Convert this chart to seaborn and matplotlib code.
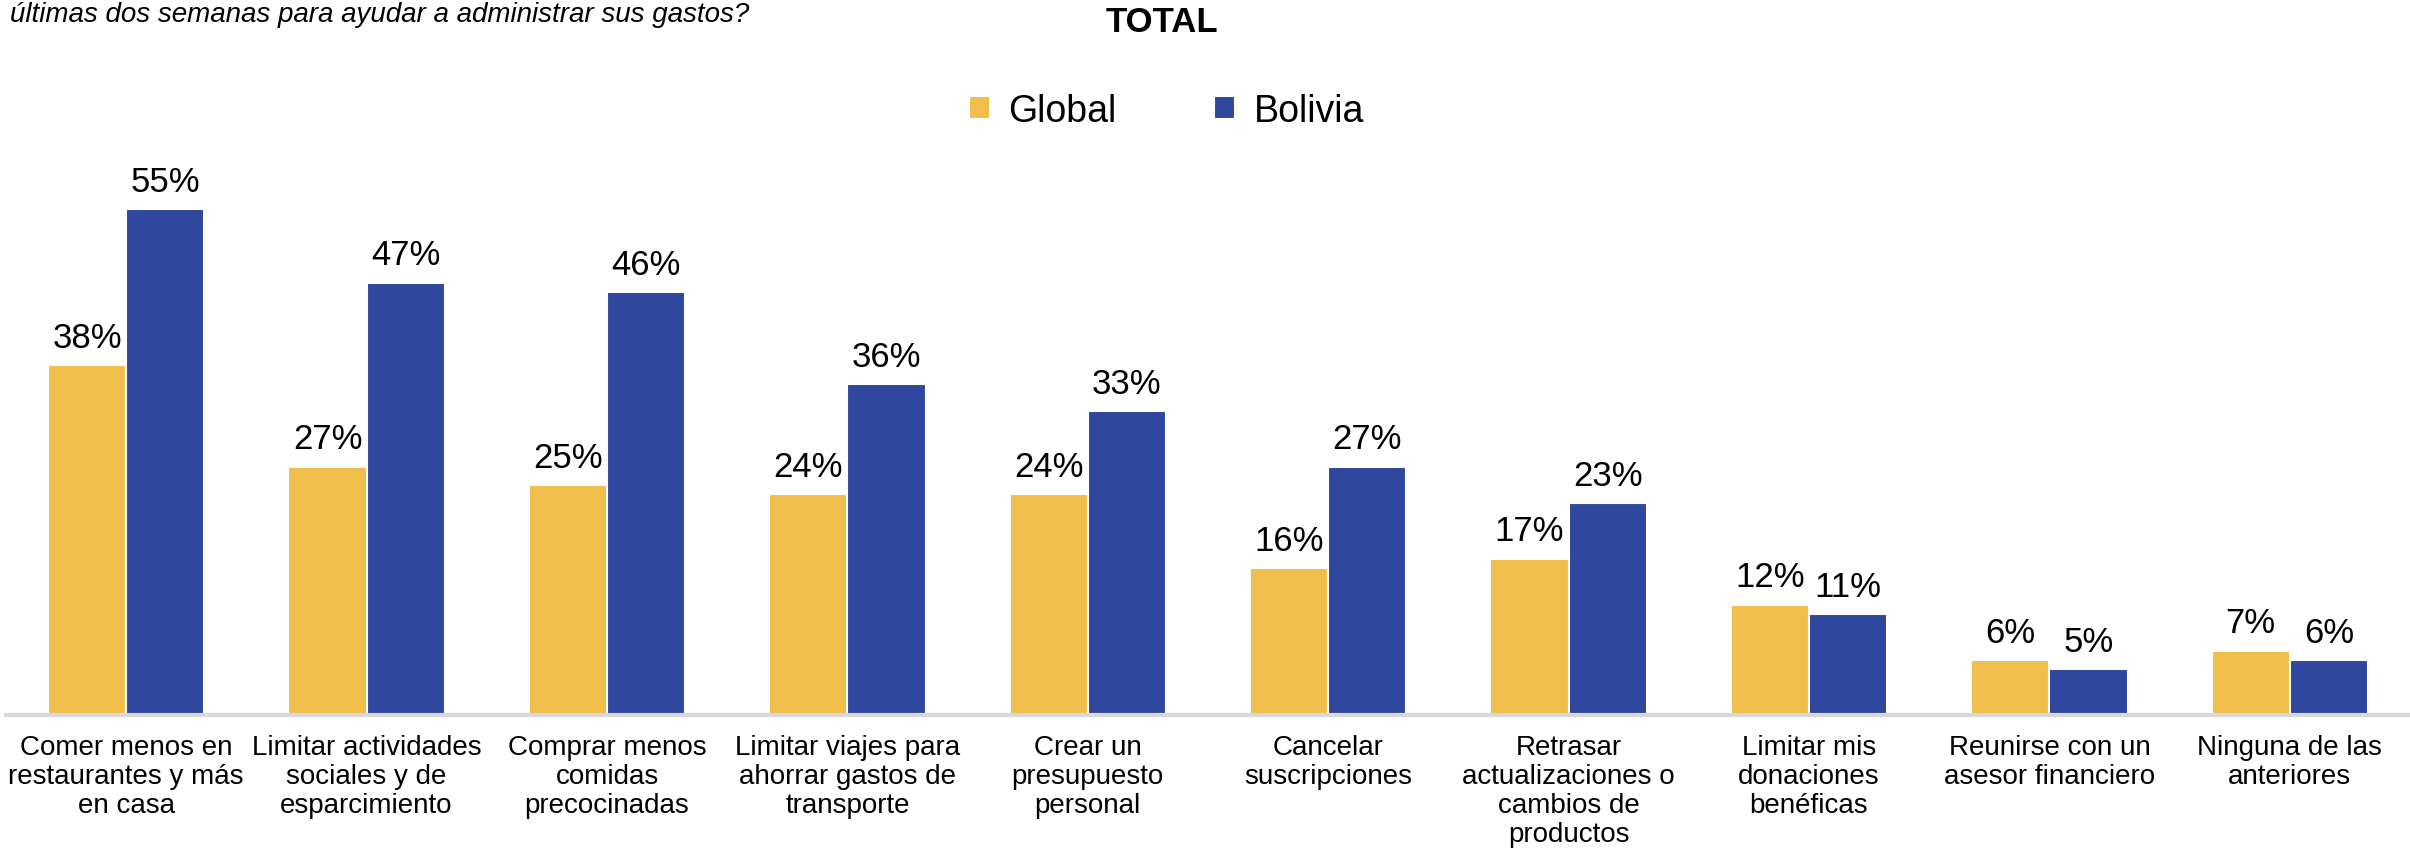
import matplotlib
matplotlib.use("Agg")
import matplotlib.pyplot as plt
from matplotlib import font_manager
import seaborn as sns
import pandas as pd

categories = [
    "Comer menos en\nrestaurantes y más\nen casa",
    "Limitar actividades\nsociales y de\nesparcimiento",
    "Comprar menos\ncomidas\nprecocinadas",
    "Limitar viajes para\nahorrar gastos de\ntransporte",
    "Crear un\npresupuesto\npersonal",
    "Cancelar\nsuscripciones",
    "Retrasar\nactualizaciones o\ncambios de\nproductos",
    "Limitar mis\ndonaciones\nbenéficas",
    "Reunirse con un\nasesor financiero",
    "Ninguna de las\nanteriores",
]
global_vals = [38, 27, 25, 24, 24, 16, 17, 12, 6, 7]
bolivia_vals = [55, 47, 46, 36, 33, 27, 23, 11, 5, 6]
series = ["Global", "Bolivia"]
colors = {"Global": "#F0BE4A", "Bolivia": "#2F479C"}

df = pd.DataFrame({
    "categoria": categories * 2,
    "serie": ["Global"] * len(categories) + ["Bolivia"] * len(categories),
    "valor": global_vals + bolivia_vals,
})

sns.set_theme(style="white")
names = {f.name for f in font_manager.fontManager.ttflist}
narrow = "Liberation Sans Narrow" if "Liberation Sans Narrow" in names else "Liberation Sans"
plt.rcParams["font.family"] = ["Liberation Sans", "DejaVu Sans"]
plt.rcParams["text.color"] = "black"
plt.rcParams["xtick.color"] = "black"

fig = plt.figure(figsize=(24.1, 8.54), dpi=100)
ax = fig.add_axes([0.0025, 0.1616, 0.9975, 0.6464])

sns.barplot(data=df, x="categoria", y="valor", hue="serie", hue_order=series,
            palette=colors, width=0.65, edgecolor="white", linewidth=1.5,
            saturation=1, ax=ax)

for cont in ax.containers:
    ax.bar_label(cont, fmt="%.0f%%", padding=8, fontsize=25, color="black")

ax.set_xlim(-0.5, 9.5)
ax.set_ylim(0, 60)
ax.set_xlabel("")
ax.set_ylabel("")
ax.set_yticks([])
for s in ["top", "right", "left"]:
    ax.spines[s].set_visible(False)
ax.spines["bottom"].set_color("#D9D9D9")
ax.spines["bottom"].set_linewidth(3)
ax.tick_params(axis="x", length=0, pad=14, colors="black")
for lbl in ax.get_xticklabels():
    lbl.set_fontfamily(narrow)
    lbl.set_fontsize(20)
    lbl.set_linespacing(1.15)
    lbl.set_verticalalignment("top")

leg = ax.legend(loc="center", bbox_to_anchor=(0.484, 0.869), bbox_transform=fig.transFigure,
                ncol=2, frameon=False, fontsize=27, handlelength=0.55, handleheight=0.55,
                handletextpad=0.5, columnspacing=2.6)
for t in leg.get_texts():
    t.set_color("black")

fig.text(0.482, 0.974, "TOTAL", ha="center", va="center", fontsize=25, fontweight="bold")
fig.text(0.004, 0.974, "últimas dos semanas para ayudar a administrar sus gastos?",
         ha="left", va="baseline", fontsize=20, style="italic", family=narrow)

fig.savefig("out.png", dpi=100)
